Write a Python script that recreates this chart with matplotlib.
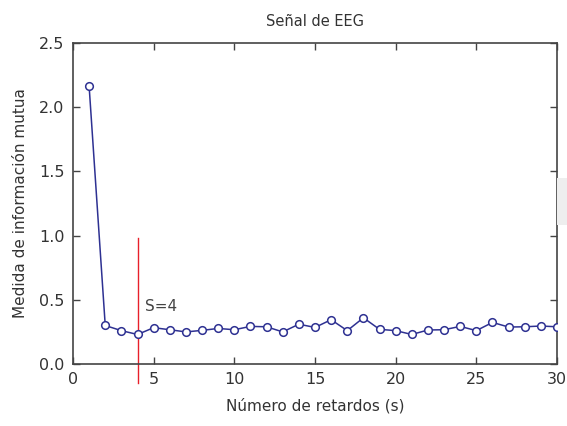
import matplotlib
matplotlib.use("Agg")
import matplotlib.pyplot as plt
from matplotlib.patches import Rectangle

# ── Data ─────────────────────────────────────────────
retardos = list(range(1, 31))
info_mutua = [2.165, 0.30, 0.26, 0.23, 0.283, 0.267, 0.25, 0.262, 0.277, 0.267,
              0.293, 0.29, 0.25, 0.31, 0.285, 0.345, 0.26, 0.36, 0.27, 0.26,
              0.23, 0.265, 0.267, 0.293, 0.26, 0.324, 0.288, 0.29, 0.296, 0.29]
s_opt = 4
s_line = [-0.15, 0.98]

LINE_COLOR = "#2E3192"
TEXT_COLOR = "#333333"

fig = plt.figure(figsize=(5.67, 4.26), dpi=100, facecolor="white")
ax = fig.add_axes([0.1287, 0.1455, 0.8537, 0.7535])

ax.plot(retardos, info_mutua, color=LINE_COLOR, linewidth=1.1,
        marker="o", markersize=5.5, markerfacecolor="white",
        markeredgecolor=LINE_COLOR, markeredgewidth=1.1, zorder=3)

# vertical marker at the chosen delay
ax.plot([s_opt, s_opt], s_line, color="#E8202A", linewidth=1.0,
        clip_on=False, zorder=2)
ax.text(s_opt + 0.45, 0.45, f"S={s_opt}", fontsize=11, color="#444444",
        ha="left", va="center")

ax.set_xlim(0, 30)
ax.set_ylim(0, 2.5)
ax.set_xticks([0, 5, 10, 15, 20, 25, 30])
ax.set_yticks([0.0, 0.5, 1.0, 1.5, 2.0, 2.5])
ax.set_yticklabels(["0.0", "0.5", "1.0", "1.5", "2.0", "2.5"])

ax.tick_params(direction="in", top=True, right=True, length=5, width=1,
               labelsize=11.5, colors="#444444", labelcolor=TEXT_COLOR, pad=6)
for sp in ax.spines.values():
    sp.set_color("#444444")
    sp.set_linewidth(1.2)

ax.set_title("Señal de EEG", fontsize=10.5, color=TEXT_COLOR, pad=12)
ax.set_xlabel("Número de retardos (s)", fontsize=11, color=TEXT_COLOR, labelpad=8)
ax.set_ylabel("Medida de información mutua", fontsize=11, color=TEXT_COLOR, labelpad=8)

# faint grey strip at the right edge of the original image
fig.patches.append(Rectangle((557 / 567, 1 - 225 / 426), 10 / 567, 47 / 426,
                             transform=fig.transFigure, facecolor="#EEEEEE",
                             edgecolor="none", zorder=0))

fig.savefig("out.png", dpi=100, facecolor="white")
